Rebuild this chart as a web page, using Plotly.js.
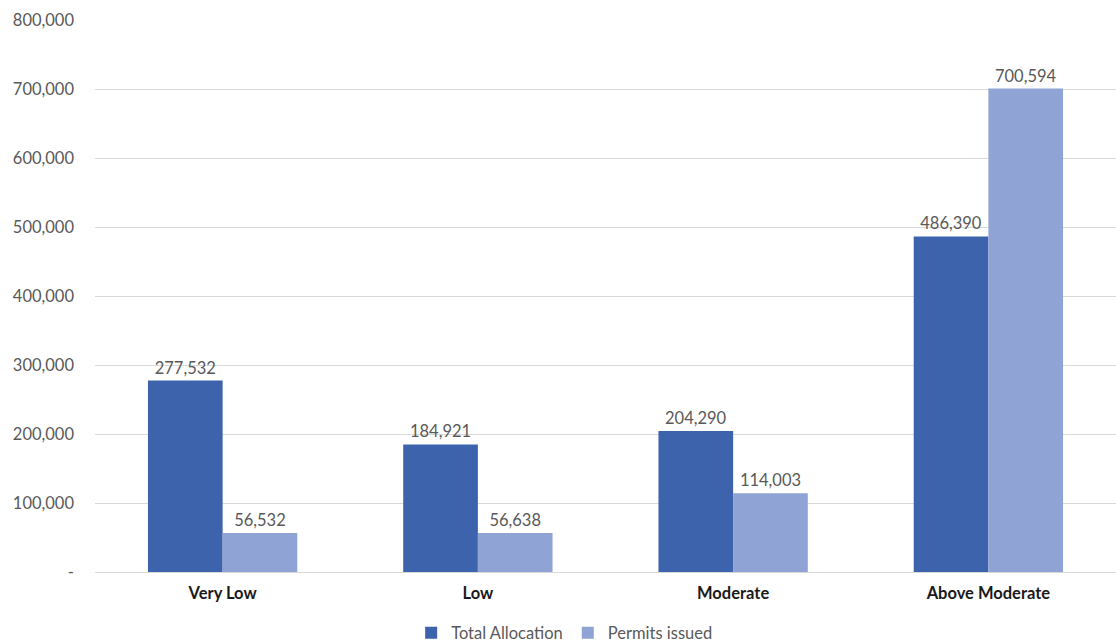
<!DOCTYPE html>
<html><head><meta charset="utf-8">
<script src="https://cdn.plot.ly/plotly-3.0.1.min.js"></script>
<style>html,body{margin:0;padding:0;background:#fff}</style>
</head><body>
<div id="chart" style="width:1116px;height:642px"></div>
<script>
const categories = ["Very Low", "Low", "Moderate", "Above Moderate"];
const totalAllocation = [277532, 184921, 204290, 486390];
const permitsIssued = [56532, 56638, 114003, 700594];
const tickVals = [0, 100000, 200000, 300000, 400000, 500000, 600000, 700000, 800000];
const tickText = ["-", "100,000", "200,000", "300,000", "400,000", "500,000", "600,000", "700,000", "800,000"];

const fmt = v => v.toLocaleString("en-US");
const font = "Lato, 'Open Sans', sans-serif";

const traces = [
  {type: "bar", name: "Total Allocation", x: categories, y: totalAllocation,
   marker: {color: "#3C63AC"}, text: totalAllocation.map(fmt), textposition: "outside",
   textfont: {color: "#595959", size: 16.5, family: font}, cliponaxis: false},
  {type: "bar", name: "Permits issued", x: categories, y: permitsIssued,
   marker: {color: "#8FA4D4"}, text: permitsIssued.map(fmt), textposition: "outside",
   textfont: {color: "#595959", size: 16.5, family: font}, cliponaxis: false}
];

const layout = {
  width: 1116, height: 642,
  margin: {l: 95, r: 0, t: 20, b: 70},
  barmode: "group", bargap: 0.415, bargroupgap: 0,
  paper_bgcolor: "#fff", plot_bgcolor: "#fff",
  font: {family: font, color: "#595959", size: 16.5},
  xaxis: {tickfont: {family: font, color: "#1a1a1a", size: 16.5, weight: "bold"},
          showline: true, linecolor: "#d9d9d9", linewidth: 1, ticks: "", showgrid: false,
          automargin: false, ticklabelstandoff: 6},
  yaxis: {range: [0, 800000], tickvals: tickVals, ticktext: tickText,
          gridcolor: "#d9d9d9", gridwidth: 1, zeroline: false, ticks: "",
          tickfont: {family: font, color: "#595959", size: 16.5}, ticklabelstandoff: 20,
          automargin: false},
  legend: {orientation: "h", x: 0.46, xanchor: "center", xref: "paper",
           yref: "container", y: 0.014, yanchor: "middle",
           font: {family: font, color: "#595959", size: 16.5}, traceorder: "normal"},
  showlegend: true
};
Plotly.newPlot("chart", traces, layout, {displayModeBar: false, staticPlot: true});
</script>
</body></html>
